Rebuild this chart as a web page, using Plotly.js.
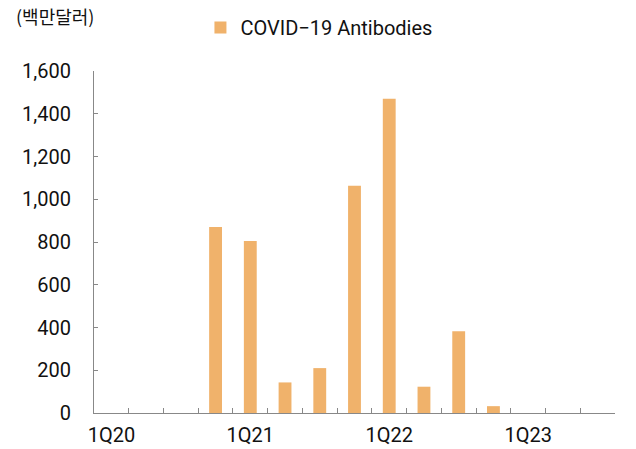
<!DOCTYPE html>
<html>
<head>
<meta charset="utf-8">
<script src="https://cdn.plot.ly/plotly-3.0.1.min.js"></script>
<style>html,body{margin:0;padding:0;background:#fff;}#chart{width:636px;height:449px;}</style>
</head>
<body>
<div id="chart"></div>
<script>
const quarters = ["1Q20","2Q20","3Q20","4Q20","1Q21","2Q21","3Q21","4Q21","1Q22","2Q22","3Q22","4Q22","1Q23","2Q23","3Q23"];
const antibodies = [0,0,0,870,805,143,210,1063,1470,123,382,32,0,0,0];
const labeledQuarters = ["1Q20","1Q21","1Q22","1Q23"];
const seriesName = "COVID\u221219 Antibodies";
const unitLabel = "(백만달러)";

const font = "Roboto, 'Noto Sans CJK KR', sans-serif";

const trace = {
  type: "bar",
  x: quarters,
  y: antibodies,
  name: seriesName,
  marker: {color: "#F0B26B"},
  hoverinfo: "x+y"
};

const layout = {
  width: 636, height: 449,
  margin: {l: 93.5, r: 21.3, t: 71, b: 36, autoexpand: false},
  paper_bgcolor: "#fff", plot_bgcolor: "#fff",
  font: {family: font, size: 20, color: "#111"},
  bargap: 0.63,
  showlegend: true,
  legend: {orientation: "h", x: 0.2043, xanchor: "left", y: 1.127, yanchor: "middle",
           font: {family: font, size: 20, color: "#111"}, bgcolor: "rgba(0,0,0,0)"},
  xaxis: {
    type: "category",
    tickmode: "array",
    tickvals: quarters,
    ticktext: quarters.map(q => labeledQuarters.includes(q) ? q : ""),
    tickson: "boundaries",
    ticks: "inside", ticklen: 5, tickcolor: "#888", tickwidth: 1,
    showline: true, linecolor: "#888", linewidth: 1,
    showgrid: false, zeroline: false,
    tickfont: {family: font, size: 20, color: "#111"},
    tickangle: 0,
    ticklabelstandoff: 4
  },
  yaxis: {
    range: [0, 1600], dtick: 200, tick0: 0,
    tickformat: ",d",
    ticks: "inside", ticklen: 4, tickcolor: "#888", tickwidth: 1,
    showline: true, linecolor: "#888", linewidth: 1,
    showgrid: false, zeroline: false,
    tickfont: {family: font, size: 20, color: "#111"},
    ticklabelstandoff: 18
  },
  annotations: [{
    text: unitLabel, xref: "paper", yref: "paper",
    x: -0.154, y: 1.162, xanchor: "left", yanchor: "middle",
    showarrow: false, font: {family: "'Noto Sans CJK KR', sans-serif", size: 18, color: "#111"}
  }]
};

Plotly.newPlot("chart", [trace], layout, {displayModeBar: false, staticPlot: true});
</script>
</body>
</html>
